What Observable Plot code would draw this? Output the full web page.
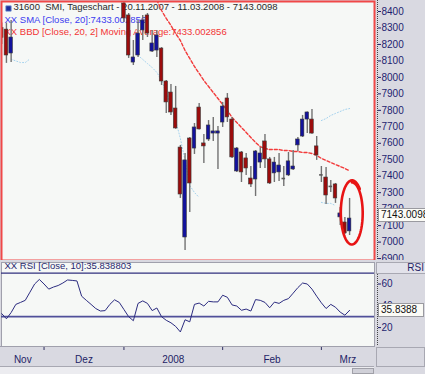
<!DOCTYPE html>
<html><head><meta charset="utf-8">
<script src="https://cdn.jsdelivr.net/npm/d3@7"></script>
<script src="https://cdn.jsdelivr.net/npm/@observablehq/plot@0.6"></script>
<style>
html,body{margin:0;padding:0;}
body{width:425px;height:374px;position:relative;overflow:hidden;background:#d9d9e1;font-family:"Liberation Sans",Arial,sans-serif;}
.abs{position:absolute;}
#main,#rsi{position:absolute;left:0;}
#main{top:0;height:260px;width:425px;overflow:hidden;} #rsi{top:260px;}
.vbox{position:absolute;left:378px;height:12px;line-height:12px;font-size:10px;color:#111;background:#fbfbf6;border:1px solid #9a9aa0;padding-left:2px;white-space:nowrap;}
</style></head><body>
<div id="main"></div>
<div id="rsi"></div>
<script>
// ---- data ----
const dates = ["20.11.2007","21.11.2007","22.11.2007","23.11.2007","26.11.2007","27.11.2007","28.11.2007","29.11.2007","30.11.2007",
"03.12.2007","04.12.2007","05.12.2007","06.12.2007","07.12.2007","10.12.2007","11.12.2007","12.12.2007","13.12.2007","14.12.2007","17.12.2007","18.12.2007","19.12.2007","20.12.2007","21.12.2007","27.12.2007","28.12.2007",
"03.01.2008","04.01.2008","07.01.2008","08.01.2008","09.01.2008","10.01.2008","11.01.2008","14.01.2008","15.01.2008","16.01.2008","17.01.2008","18.01.2008","21.01.2008","22.01.2008","23.01.2008","24.01.2008","25.01.2008","28.01.2008","29.01.2008","30.01.2008","31.01.2008",
"01.02.2008","04.02.2008","05.02.2008","06.02.2008","07.02.2008","08.02.2008","11.02.2008","12.02.2008","13.02.2008","14.02.2008","15.02.2008","18.02.2008","19.02.2008","20.02.2008","21.02.2008","22.02.2008","25.02.2008","26.02.2008","27.02.2008","28.02.2008","29.02.2008",
"03.03.2008","04.03.2008","05.03.2008","06.03.2008","07.03.2008","10.03.2008","11.03.2008"];
const N = null;
const open  = [8300,8290,8145,N,N,N,N,N,N, N,N,N,N,N,N,N,N,N,N,N,N,N,N,N,N,N,
 8449,8376,8090,8133,8285,8376,8157,8163,8175,7975,7908,7811,7574,7028,7629,7568,7817,7599,7623,7659,7659,
 7726,7872,7744,7429,7544,7508,7386,7380,7483,7611,7502,7417,7423,7386,7405,7441,7587,7641,7744,7744,7581,
 7408,7392,7338,7350,7150,7119,7065];
const high  = [8330,8330,8345,N,N,N,N,N,N, N,N,N,N,N,N,N,N,N,N,N,N,N,N,N,N,N,
 8470,8388,8224,8345,8376,8388,8285,8285,8181,7981,7957,7945,7587,7538,7635,7720,7842,7653,7738,7757,7702,
 7848,7902,7757,7574,7550,7538,7459,7556,7574,7653,7514,7514,7538,7459,7544,7556,7635,7769,7790,7805,7641,
 7459,7453,7374,7356,7210,7150,7265];
const low   = [8200,8085,8090,N,N,N,N,N,N, N,N,N,N,N,N,N,N,N,N,N,N,N,N,N,N,N,
 8333,8115,8072,8121,8224,8242,8151,8121,7951,7781,7769,7685,7265,6949,7180,7532,7680,7477,7611,7611,7441,
 7696,7726,7508,7423,7362,7405,7332,7277,7447,7447,7350,7362,7368,7338,7398,7435,7550,7635,7659,7655,7496,
 7362,7229,7301,7235,7101,7046,7040];
const close = [8240,8133,8242,N,N,N,N,N,N, N,N,N,N,N,N,N,N,N,N,N,N,N,N,N,N,N,
 8358,8133,8121,8266,8345,8266,8206,8254,7975,7848,7787,7690,7289,7496,7356,7696,7684,7581,7708,7672,7672,
 7823,7757,7514,7568,7423,7447,7350,7550,7538,7502,7356,7483,7465,7386,7490,7459,7623,7744,7787,7659,7526,
 7408,7283,7338,7265,7174,7053,7143.0098];
const sma20 = [N,N,N,N,N,N,N,N,N, N,N,N,N,N,N,N,N,N,N,N,N,N,N,N,N,N,
 N,N,N,N,N,N,N,8470,8406,8358,8315,8266,8224,8163,8115,8066,8024,7981,7945,7908,7872,
 7835,7799,7757,7726,7696,7666,7635,7605,7580,7568,7562,7562,7562,7556,7556,7550,7550,7544,7544,7538,7526,
 7508,7496,7483,7471,7459,7447,7433.002856];
const bbLower = [N,N,8110,8100,8090,8090,8112,N,N, N,N,N,N,N,N,N,N,N,N,N,N,N,N,N,N,N,
 N,N,N,8133,8109,8084,8060,8030,7981,7908,7829,7738,7629,7496,7344,7301,7271,N,N,N,N,
 N,N,N,N,N,N,N,N,N,N,N,N,N,N,N,N,N,N,N,N,N,
 7241,7235,7235,7222,N,N,N];
const bbUpper = [N,N,N,N,N,N,N,N,N, N,N,N,N,N,N,N,N,N,N,N,N,N,N,N,N,N,
 N,N,N,N,N,N,N,N,N,N,N,N,N,N,N,N,N,N,N,N,N,
 N,N,N,N,N,N,N,N,N,N,N,N,N,N,N,N,N,N,N,N,N,
 7738,7750,7769,7781,7793,7805,7811];
const rsi10 = [32.8,28.1,33.8,41.3,43.1,45,52.5,60,64.2,
 60,55.3,57.2,58.6,60.9,63.7,63.3,62.8,48.8,45,41.3,37.5,35.2,35.6,41.3,45.5,43.1,
 36.6,30,26.3,42.2,44.5,42.2,35.6,38,30,26.7,24.4,21.1,16,27.2,25.3,41.3,42.5,39.8,44.1,43.6,43.6,
 49.7,47.8,40.8,39.8,35.9,37,35.2,45.7,45,43.1,38.2,43.4,42.2,45,46.6,51.6,56.7,60.9,60,55.3,48.8,
 42.7,37.5,41.3,38.7,34.2,31.4,35.838803];
const priceTicks = [6900,7000,7100,7200,7300,7400,7500,7600,7700,7800,7900,8000,8100,8200,8300,8400];
const rsiTicks = [20,40,60];
const rsiLevels = [70,30];
const monthLabels = ["Nov","Dez","2008","Feb","Mrz"];
const symbolCode = "31600", instrument = "SMI", chartKind = "Tageschart";
const lastClose = "7143.0098";
const smaLabel = "XX SMA [Close, 20]:7433.002856";
const bbdLabel = "XX BBD [Close, 20, 2] Moving Average:7433.002856";
const rsiLabel = "XX RSI [Close, 10]:35.838803";
const rsiLast = "35.8388";

// ---- derived tables ----
const idx = d3.range(dates.length);
const candles = idx.filter(i => open[i] != null).map(i => ({i, o: open[i], h: high[i], l: low[i], c: close[i]}));
const bodies = candles.filter(d => d.o !== d.c);
const dojis = candles.filter(d => d.o === d.c);
const xDomain = [-0.05, 79.3];
const monthStarts = idx.filter(i => i > 0 && dates[i].slice(3) !== dates[i-1].slice(3));
const bounds = [xDomain[0], ...monthStarts, xDomain[1]];
const monthMarks = monthLabels.map((t, k) => ({t, x: (bounds[k] + bounds[k+1]) / 2}));
const title = `${symbolCode}  ${instrument}, ${chartKind} - ${dates[0]} - ${dates[dates.length-1]} - ${lastClose}`;
// hand-drawn ring annotation around the last sessions
const ring = {cx: 74.5, cy: 7177, rx: 2.25, ry: 185};
const ringPts = d3.range(0, 2 * Math.PI + 0.8, 0.08).map(t => {
  const k = 1 + 0.07 * t / (2 * Math.PI);
  return {x: ring.cx + ring.rx * k * Math.sin(t), y: ring.cy + ring.ry * k * Math.cos(t)};
});

const font = "'Liberation Sans', Arial, sans-serif";
const mainPlot = Plot.plot({
  width: 425, height: 261,
  marginLeft: 1, marginRight: 51, marginTop: 1, marginBottom: 1,
  x: {domain: xDomain, axis: null},
  y: {domain: [7000, 8400], range: [241.6, 11], axis: null},
  style: {background: "transparent", fontFamily: font, fontSize: "9.5px", color: "#1e1e70"},
  marks: [
    Plot.frame({fill: "#f6f8f6"}),
    Plot.line(idx, {x: i => i, y: i => bbLower[i], stroke: "#a4d2ee", strokeWidth: 1, strokeDasharray: "1,2", clip: true}),
    Plot.line(idx, {x: i => i, y: i => bbUpper[i], stroke: "#a4d2ee", strokeWidth: 1, strokeDasharray: "1,2", clip: true}),
    Plot.text([title], {text: d => d, frameAnchor: "top-left", dx: 12, dy: 2, lineAnchor: "top", textAnchor: "start", fill: "#2a2a2a"}),
    Plot.dot([0], {frameAnchor: "top-left", dx: 7, dy: 7, symbol: "square", r: 3, fill: "#1c2c9c", stroke: "#7090d0", strokeWidth: 0.8}),
    Plot.text([smaLabel], {text: d => d, frameAnchor: "top-left", dx: 3, dy: 14.5, lineAnchor: "top", textAnchor: "start", fill: "#3c3cf0"}),
    Plot.text([bbdLabel], {text: d => d, frameAnchor: "top-left", dx: 3, dy: 27, lineAnchor: "top", textAnchor: "start", fill: "#f23434"}),
    Plot.line(idx, {x: i => i, y: i => sma20[i], stroke: "#f23a3a", strokeWidth: 1.4, strokeDasharray: "3,2", clip: true}),
    Plot.ruleX(candles, {x: "i", y1: "l", y2: "h", stroke: "#727272", strokeWidth: 1.4, clip: true}),
    Plot.rect(bodies, {x1: d => d.i - 0.38, x2: d => d.i + 0.38, y1: "o", y2: "c",
      fill: d => d.c > d.o ? "#12129c" : "#9c0c0c", stroke: "#3a3a3a", strokeWidth: 0.6, clip: true}),
    Plot.ruleY(dojis, {x1: d => d.i - 0.38, x2: d => d.i + 0.38, y: "c", stroke: "#5a5a5a", strokeWidth: 1.6, clip: true}),
    Plot.line(ringPts, {x: "x", y: "y", stroke: "#e81414", strokeWidth: 2.6, curve: "linear"}),
    Plot.frame({stroke: "#f04848", strokeWidth: 2}),
    Plot.axisY({anchor: "right", ticks: priceTicks, tickSize: 3, tickPadding: 1, dx: 3, label: null, tickFormat: d => String(d), fontSize: 10})
  ]
});
document.getElementById("main").append(mainPlot);

const rsiPlot = Plot.plot({
  width: 425, height: 106,
  marginLeft: 1, marginRight: 51, marginTop: 2, marginBottom: 20,
  x: {domain: xDomain, axis: null},
  y: {domain: [0, 100], range: [88.9, -20.1], axis: null},
  style: {background: "transparent", fontFamily: font, fontSize: "9.5px", color: "#1e1e70"},
  marks: [
    Plot.frame({fill: "#f6f8f6", stroke: "#a0a0ac"}),
    Plot.text([rsiLabel], {text: d => d, frameAnchor: "top-left", dx: 3, dy: 0, lineAnchor: "top", textAnchor: "start", fill: "#26266e"}),
    Plot.ruleY([rsiLevels[0]], {stroke: "#30307e", strokeWidth: 1.2}),
    Plot.ruleY([rsiLevels[1]], {stroke: "#50509a", strokeWidth: 1.8}),
    Plot.line(idx, {x: i => i, y: i => rsi10[i], stroke: "#2c2c80", strokeWidth: 1}),
    Plot.axisY({anchor: "right", ticks: rsiTicks, tickSize: 3, tickPadding: 1, dx: 3, label: null, tickFormat: d => String(d), fontSize: 10}),
    Plot.axisX({anchor: "bottom", ticks: monthStarts, tickSize: 4, label: null, tickFormat: () => "", stroke: "#303060"}),
    Plot.text(monthMarks, {x: "x", text: "t", frameAnchor: "bottom", dy: 16, fill: "#1e1e66", fontSize: 10})
  ]
});
document.getElementById("rsi").append(rsiPlot);

// decorations of the axis panels
function addDiv(css, text) {
  const d = document.createElement("div");
  d.className = "abs";
  d.style.cssText = css;
  if (text) d.textContent = text;
  document.body.append(d);
  return d;
}
addDiv("left:377px;top:0;height:259px;border-left:1px dotted #444;");
addDiv("left:377px;top:274px;height:71px;border-left:1px dotted #444;");
addDiv("left:376px;top:262px;width:47px;height:10px;background:#e2e2ea;border:1px solid #a8a8b2;font-size:10px;line-height:10px;text-align:right;color:#1e1e66;padding-right:1px;", "RSI");
addDiv("left:376px;top:347px;width:47px;height:18px;border:1px solid #a8a8b2;");
addDiv("left:0;top:346px;width:374px;height:0;border-top:1px solid #a0a0ac;");
addDiv("left:0;top:366px;width:374px;height:7px;background:#ececf0;border-top:1px solid #a8a8b2;");
addDiv("left:352px;top:368px;width:20px;height:4px;background:#d0d0d8;border:1px solid #a0a0a8;");

const yMain = mainPlot.scale("y");
const vb1 = document.createElement("div");
vb1.className = "vbox"; vb1.textContent = lastClose;
vb1.style.top = (yMain.apply(+lastClose) - 10) + "px";
vb1.style.width = "60px";
document.body.append(vb1);
const yR = rsiPlot.scale("y");
const vb2 = document.createElement("div");
vb2.className = "vbox"; vb2.textContent = rsiLast;
vb2.style.top = (260 + yR.apply(rsi10[rsi10.length-1]) - 7) + "px";
vb2.style.width = "42px";
document.body.append(vb2);
</script>
</body></html>
